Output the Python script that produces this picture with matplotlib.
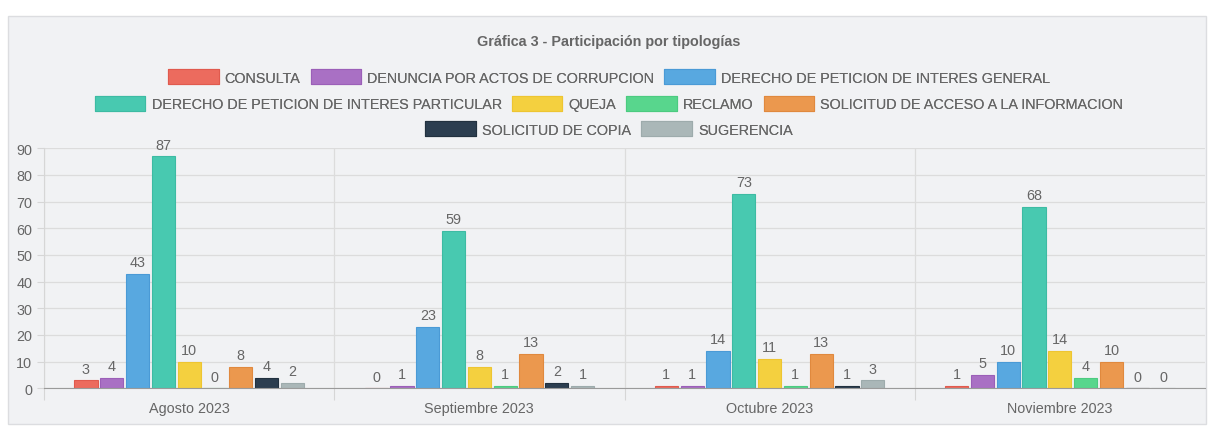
import matplotlib
matplotlib.use("Agg")
import matplotlib.pyplot as plt
from matplotlib.patches import Rectangle
import numpy as np

plt.rcParams['font.family'] = ['Liberation Sans', 'DejaVu Sans']

title = "Gráfica 3 - Participación por tipologías"
months = ["Agosto 2023", "Septiembre 2023", "Octubre 2023", "Noviembre 2023"]
series_names = [
    "CONSULTA",
    "DENUNCIA POR ACTOS DE CORRUPCION",
    "DERECHO DE PETICION DE INTERES GENERAL",
    "DERECHO DE PETICION DE INTERES PARTICULAR",
    "QUEJA",
    "RECLAMO",
    "SOLICITUD DE ACCESO A LA INFORMACION",
    "SOLICITUD DE COPIA",
    "SUGERENCIA",
]
consulta = [3, 0, 1, 1]
denuncia = [4, 1, 1, 5]
peticion_general = [43, 23, 14, 10]
peticion_particular = [87, 59, 73, 68]
queja = [10, 8, 11, 14]
reclamo = [0, 1, 1, 4]
solicitud_acceso = [8, 13, 13, 10]
solicitud_copia = [4, 2, 1, 0]
sugerencia = [2, 1, 3, 0]
series_values = [consulta, denuncia, peticion_general, peticion_particular,
                 queja, reclamo, solicitud_acceso, solicitud_copia, sugerencia]
colors = ["#ec6b5e", "#a970c4", "#58a8e0", "#48c9b0", "#f4d03f",
          "#58d68d", "#eb984e", "#2c3e50", "#aab7b8"]
edge_colors = ["#e05a4e", "#9b5fb8", "#4a9ad6", "#3dbba3", "#eec531",
               "#4ccb80", "#e0893e", "#22313f", "#9dabac"]

W, H = 1210, 427
FS = 10.4
fig = plt.figure(figsize=(W / 100, H / 100), dpi=100)
fig.patch.set_facecolor("white")

# panel background
panel = Rectangle((8 / W, 1 - 425 / H), (1206 - 8) / W, (425 - 17) / H,
                  transform=fig.transFigure, facecolor="#f1f2f4",
                  edgecolor="#dcdde0", linewidth=1.0, zorder=-10)
fig.patches.append(panel)

ax_left, ax_right = 44 / W, 1205 / W
ax_bottom, ax_top = 1 - 389.3 / H, 1 - 149.3 / H
ax = fig.add_axes([ax_left, ax_bottom, ax_right - ax_left, ax_top - ax_bottom])
ax.set_facecolor("none")

n = len(series_names)
x = np.arange(len(months))
slot = 0.8 / n
bw = slot * 0.9
text_col = "#666666"
handles = []
for i, (name, vals) in enumerate(zip(series_names, series_values)):
    pos = x - 0.4 + slot * (i + 0.5)
    b = ax.bar(pos, vals, width=bw, color=colors[i], edgecolor=edge_colors[i],
               linewidth=0.8, label=name, zorder=3)
    handles.append(b)
    for xp, v in zip(pos, vals):
        ax.annotate(str(v), (xp, v), xytext=(0, 3.3), textcoords="offset points",
                    ha="center", va="bottom", fontsize=FS, color=text_col,
                    zorder=4)

ax.set_xlim(-0.5, len(months) - 0.5)
ax.set_ylim(0, 90)
ax.set_yticks(np.arange(0, 91, 10))
ax.tick_params(axis="y", length=5, color="#d6d6d6", labelsize=FS,
               labelcolor=text_col, pad=3.6)

# category boundaries as major ticks (grid + tick marks), labels at centers
ax.set_xticks(np.arange(-0.5, len(months) - 0.5, 1.0))
ax.set_xticklabels([])
ax.set_xticks(x, minor=True)
ax.set_xticklabels(months, minor=True)
ax.tick_params(axis="x", which="major", length=8.5, color="#d6d6d6")
ax.tick_params(axis="x", which="minor", length=0, labelsize=FS,
               labelcolor=text_col, pad=9)

ax.grid(True, which="major", color="#dcdcdc", linewidth=0.9, zorder=0)
ax.set_axisbelow(True)
for s in ["top", "right"]:
    ax.spines[s].set_visible(False)
ax.spines["left"].set_color("#d6d6d6")
ax.spines["bottom"].set_color("#9a9a9a")
ax.spines["bottom"].set_zorder(5)

# title
cx = 609 / W
fig.text(cx, 1 - 42 / H, title, ha="center", va="center", fontsize=FS,
         fontweight="bold", color="#666666")

# legend rows (flow layout like the original)
rows = [(0, 3, 78), (3, 7, 104.5), (7, 9, 130)]
for a, bnd, ypix in rows:
    leg = fig.legend(handles[a:bnd], series_names[a:bnd], loc="center",
                     bbox_to_anchor=(cx, 1 - ypix / H), ncol=bnd - a,
                     frameon=False, fontsize=FS, handlelength=3.5,
                     handleheight=1.18, handletextpad=0.42,
                     columnspacing=0.7, borderpad=0, borderaxespad=0)
    for t in leg.get_texts():
        t.set_color(text_col)
    fig.add_artist(leg)

fig.savefig("out.png", dpi=100, facecolor=fig.get_facecolor())
